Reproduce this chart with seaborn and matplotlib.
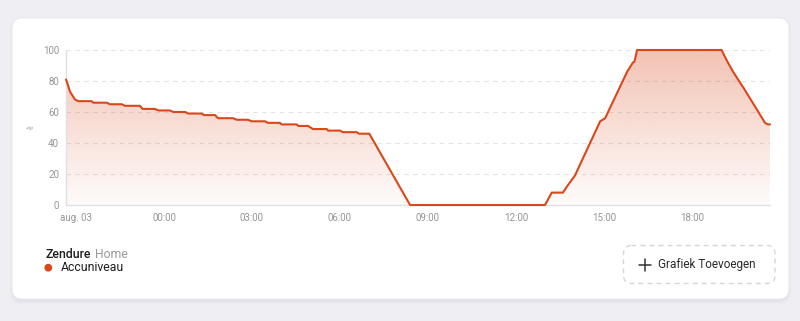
import numpy as np
import pandas as pd
import matplotlib
matplotlib.use("Agg")
import matplotlib.pyplot as plt
import seaborn as sns
from matplotlib.patches import FancyBboxPatch, Polygon, Circle
from matplotlib.lines import Line2D

# ---- data (hours relative to aug 03 00:00, battery level %) ----
hours = [-3.34, -3.32, -3.20, -3.03, -2.92, -2.47, -2.41, -1.95, -1.84, -1.44,
         -1.33, -0.82, -0.73, -0.31, -0.19, 0.20, 0.32, 0.72, 0.83, 1.29,
         1.36, 1.74, 1.84, 2.35, 2.48, 2.86, 2.99, 3.44, 3.55, 3.95,
         4.01, 4.52, 4.58, 4.91, 5.08, 5.55, 5.59, 6.00, 6.10, 6.57,
         6.65, 7.00, 8.39, 12.99, 13.22, 13.60, 13.74, 14.01, 14.87, 15.04,
         15.79, 15.99, 16.04, 16.13, 19.01, 19.18, 19.40, 19.81, 20.49, 20.59,
         20.66]
levels = [81, 80, 73, 68, 67, 67, 66, 66, 65, 65,
          64, 64, 62, 62, 61, 61, 60, 60, 59, 59,
          58, 58, 56, 56, 55, 55, 54, 54, 53, 53,
          52, 52, 51, 51, 49, 49, 48, 48, 47, 47,
          46, 46, 0, 0, 8, 8, 12, 19, 54, 56,
          86, 92, 92.5, 100, 100, 93.5, 86, 74, 53, 52,
          52]
tick_hours = [-3, 0, 3, 6, 9, 12, 15, 18]
tick_labels = ["aug. 03", "00:00", "03:00", "06:00", "09:00", "12:00", "15:00", "18:00"]
y_ticks = [0, 20, 40, 60, 80, 100]
series_name = "Accuniveau"
device = "Zendure"
area = "Home"
button_text = "Grafiek Toevoegen"

LINE = "#d9481b"
W, H = 800, 321

sns.set_theme(style="white")
plt.rcParams['font.family'] = ['Roboto', 'DejaVu Sans']

fig = plt.figure(figsize=(W / 100, H / 100), dpi=100)
fig.patch.set_facecolor("#efeff3")

# background axes in pixel coordinates
bg = fig.add_axes([0, 0, 1, 1])
bg.set_xlim(0, W)
bg.set_ylim(H, 0)
bg.axis("off")
bg.set_zorder(0)

# card shadow + card
for i, a in enumerate([0.035, 0.03, 0.025, 0.02]):
    s = FancyBboxPatch((12 - i, 19 - i + 1.5), 777 + 2 * i, 281 + 2 * i,
                       boxstyle="round,pad=0,rounding_size=%d" % (10 + i),
                       facecolor="#8a8aa0", edgecolor="none", alpha=a)
    bg.add_patch(s)
card = FancyBboxPatch((12, 18), 777, 281, boxstyle="round,pad=0,rounding_size=10",
                      facecolor="white", edgecolor="#e6e6ea", linewidth=0.6)
bg.add_patch(card)

# legend
bg.text(45, 254, device, fontsize=8.8, fontweight="medium", color="#1c1c1c", va="center", ha="left")
bg.text(94.5, 254, area, fontsize=8.8, color="#9a9a9a", va="center", ha="left")
bg.add_patch(Circle((48.3, 267.7), 3.9, facecolor=LINE, edgecolor="none"))
bg.text(60.5, 267.5, series_name, fontsize=8.8, color="#1c1c1c", va="center", ha="left")

# add-chart button
btn = FancyBboxPatch((623.5, 245.5), 151.5, 38, boxstyle="round,pad=0,rounding_size=8",
                     facecolor="none", edgecolor="#d6d6d8", linewidth=1.0, linestyle=(0, (3.5, 3)))
bg.add_patch(btn)
bg.add_line(Line2D([639, 651], [264.5, 264.5], color="#333333", lw=1.1))
bg.add_line(Line2D([645, 645], [258.5, 270.5], color="#333333", lw=1.1))
bg.text(657.5, 264.5, button_text, fontsize=8.5, color="#2a2a2a", va="center", ha="left")

# ---- chart axes ----
left, right, top, bottom = 66, 770, 50, 205
ax = fig.add_axes([left / W, 1 - bottom / H, (right - left) / W, (bottom - top) / H])
ax.set_zorder(2)
ax.patch.set_alpha(0)

df = pd.DataFrame({"hour": hours, "level": levels})

xmin, xmax = -3.34, 20.66
ax.set_xlim(xmin, xmax)
ax.set_ylim(0, 100)

# gradient area fill
grad = np.linspace(0.0, 1.0, 256).reshape(-1, 1)
rgb = np.array(matplotlib.colors.to_rgb(LINE))
img = np.zeros((256, 1, 4))
img[..., :3] = rgb
img[..., 3] = (0.02 + 0.31 * grad[:, 0] ** 1.0).reshape(-1, 1)
im = ax.imshow(img, extent=[xmin, xmax, 0, 100], origin="lower", aspect="auto", zorder=1,
               interpolation="bilinear")
poly_pts = [(xmin, 0)] + list(zip(df["hour"], df["level"])) + [(df["hour"].iloc[-1], 0)]
clip = Polygon(poly_pts, closed=True, transform=ax.transData, facecolor="none", edgecolor="none")
ax.add_patch(clip)
im.set_clip_path(clip)

# grid lines
for yv in y_ticks[1:]:
    ax.axhline(yv, color="#e4e4e4", lw=0.8, linestyle=(0, (4, 4)), zorder=0.5)

sns.lineplot(data=df, x="hour", y="level", ax=ax, color=LINE, linewidth=1.5,
             estimator=None, sort=False, zorder=3, clip_on=False)

ax.set_xticks(tick_hours)
ax.set_xticklabels(tick_labels)
ax.set_yticks(y_ticks)
ax.set_yticklabels([str(v) for v in y_ticks])
ax.set_xlabel("")
ax.set_ylabel("")
ax.tick_params(axis="x", colors="#dcdce2", length=2.5, width=0.8, pad=3, labelsize=7, labelcolor="#959595")
ax.tick_params(axis="y", length=0, pad=5, labelsize=7, labelcolor="#959595")

for side in ["top", "right"]:
    ax.spines[side].set_visible(False)
for side in ["left", "bottom"]:
    ax.spines[side].set_color("#e0e0e6")
    ax.spines[side].set_linewidth(1.0)

bg.text(30, 128, "%", fontsize=6, color="#9a9a9a", rotation=45, va="center", ha="center")

fig.savefig("out.png", dpi=100, facecolor=fig.get_facecolor())
